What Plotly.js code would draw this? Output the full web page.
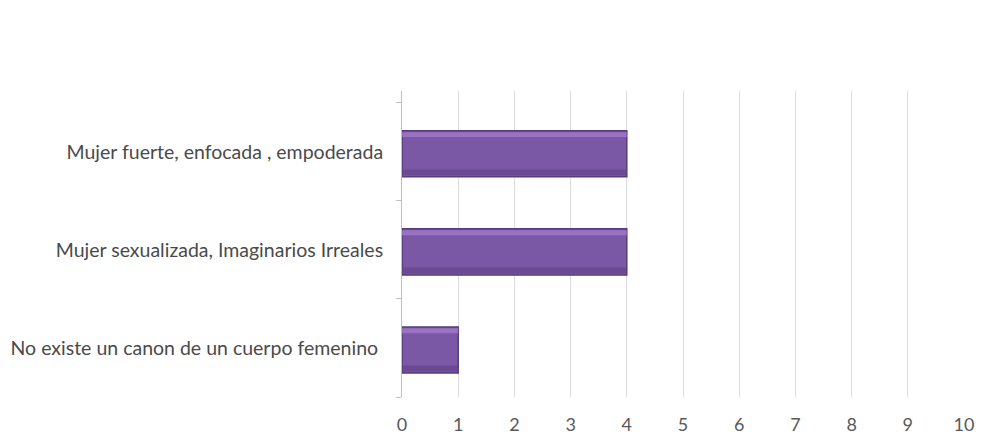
<!DOCTYPE html>
<html>
<head>
<meta charset="utf-8">
<script src="https://cdn.plot.ly/plotly-3.0.1.min.js"></script>
<style>html,body{margin:0;padding:0;background:#fff;}#chart{width:990px;height:443px;}</style>
</head>
<body>
<div id="chart"></div>
<script>
const categories = [
  "No existe un canon de un cuerpo femenino ",
  "Mujer sexualizada, Imaginarios Irreales",
  "Mujer fuerte, enfocada , empoderada"
];
const values = [1, 4, 4];
const xTicks = [0,1,2,3,4,5,6,7,8,9,10];

const mainBar = {
  type: 'bar', orientation: 'h',
  x: values, y: categories,
  width: 0.47, offset: -0.255,
  marker: {color: '#7b58a5', line: {color: '#573b7c', width: 1.5}},
  hoverinfo: 'x+y'
};
const topShine = {
  type: 'bar', orientation: 'h',
  x: values, y: categories,
  width: 0.05, offset: 0.15,
  marker: {color: '#a07ccc', opacity: 0.75, line: {width: 0}},
  hoverinfo: 'skip'
};
const bottomShade = {
  type: 'bar', orientation: 'h',
  x: values, y: categories,
  width: 0.06, offset: -0.24,
  marker: {color: '#5f4287', opacity: 0.6, line: {width: 0}},
  hoverinfo: 'skip'
};

const layout = {
  width: 990, height: 443,
  margin: {l: 402, r: 26, t: 91, b: 46},
  paper_bgcolor: '#ffffff',
  plot_bgcolor: '#ffffff',
  barmode: 'overlay',
  showlegend: false,
  font: {family: 'Lato, "Open Sans", sans-serif', color: '#595959', size: 18},
  xaxis: {
    range: [0, 10],
    tickvals: xTicks,
    ticktext: xTicks.map(String),
    showgrid: true,
    gridcolor: '#dcdcdc',
    gridwidth: 1,
    zeroline: false,
    showline: false,
    ticks: '',
    ticklabelstandoff: 15,
    tickfont: {size: 18, color: '#595959'}
  },
  yaxis: {
    type: 'category',
    categoryorder: 'array',
    categoryarray: categories,
    range: [-0.5, 2.62],
    showgrid: false,
    zeroline: false,
    showline: true,
    linecolor: '#bfbfbf',
    linewidth: 1,
    ticks: 'outside',
    tickson: 'boundaries',
    ticklen: 5,
    tickcolor: '#bfbfbf',
    ticklabelstandoff: 14,
    tickfont: {size: 19.5, color: '#4a4a4a'}
  }
};

Plotly.newPlot('chart', [mainBar, bottomShade, topShine], layout, {displayModeBar: false, staticPlot: true});
</script>
</body>
</html>
